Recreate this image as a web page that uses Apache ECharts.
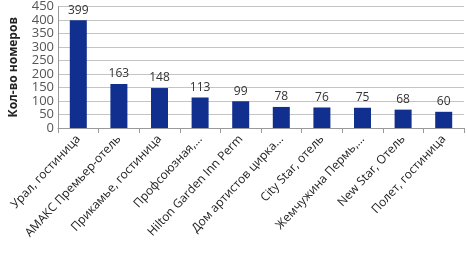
<!DOCTYPE html>
<html>
<head>
<meta charset="utf-8">
<script src="https://cdn.jsdelivr.net/npm/echarts@6/dist/echarts.min.js"></script>
<style>
  html, body { margin: 0; padding: 0; background: #fff; }
  #chart { width: 467px; height: 258px; }
</style>
</head>
<body>
<div id="chart"></div>
<script>
const hotels = [
  'Урал, гостиница',
  'АМАКС Премьер-отель',
  'Прикамье, гостиница',
  'Профсоюзная,...',
  'Hilton Garden Inn Perm',
  'Дом артистов цирка...',
  'City Star, отель',
  'Жемчужина Пермь,...',
  'New Star, Отель',
  'Полет, гостиница'
];
const rooms = [399, 163, 148, 113, 99, 78, 76, 75, 68, 60];
const yTicks = [0, 50, 100, 150, 200, 250, 300, 350, 400, 450];

let myChart = echarts.init(document.getElementById('chart'));
myChart.setOption({
  animation: false,
  textStyle: { fontFamily: '"Open Sans", "DejaVu Sans", sans-serif' },
  grid: { left: 50, right: 3, top: 6, bottom: 130 },
  xAxis: {
    type: 'category',
    data: hotels,
    axisLine: { lineStyle: { color: '#999' } },
    axisTick: { show: true, lineStyle: { color: '#999' } },
    axisLabel: { rotate: 47, interval: 0, fontSize: 12, color: '#222', margin: 9 }
  },
  yAxis: {
    type: 'value',
    min: yTicks[0],
    max: yTicks[yTicks.length - 1],
    interval: 50,
    name: 'Кол-во номеров',
    nameLocation: 'middle',
    nameGap: 38,
    nameTextStyle: { fontWeight: 'bold', fontSize: 12, color: '#222' },
    axisLine: { show: true, lineStyle: { color: '#999' } },
    axisTick: { show: false },
    axisLabel: { fontSize: 13, color: '#555', margin: 4 },
    splitLine: { lineStyle: { color: '#c4c4c4' } }
  },
  series: [{
    type: 'bar',
    data: rooms,
    barWidth: 17,
    itemStyle: { color: '#112f8f' },
    label: { show: true, position: 'top', fontSize: 12, color: '#333', distance: 4 }
  }]
});
</script>
</body>
</html>
